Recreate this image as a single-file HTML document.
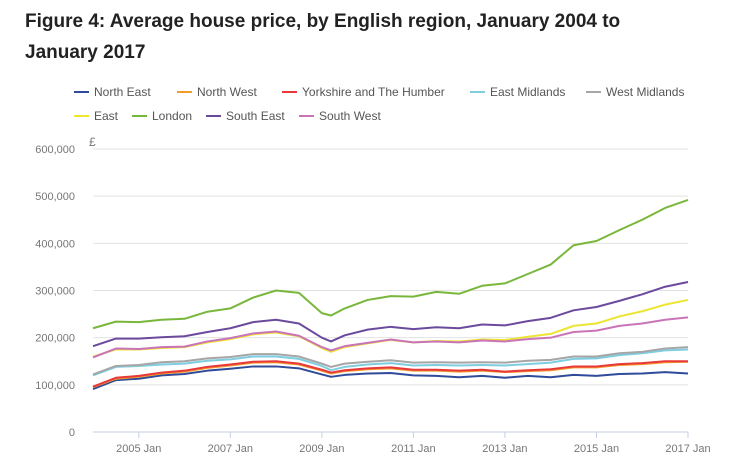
<!DOCTYPE html>
<html><head><meta charset="utf-8"><style>
body{margin:0;background:#fff;font-family:"Liberation Sans",sans-serif;}
#wrap{position:relative;width:729px;height:473px;overflow:hidden;}
h1{position:absolute;left:25px;top:6px;margin:0;font-size:19px;line-height:31px;font-weight:bold;color:#222;width:640px;}
</style></head><body>
<div id="wrap">
<h1>Figure 4: Average house price, by English region, January 2004 to January 2017</h1>
<svg id="c" width="729" height="473" style="position:absolute;left:0;top:0"></svg>
</div>
<script>
const years=[2004,2004.5,2005,2005.5,2006,2006.5,2007,2007.5,2008,2008.5,2009,2009.2,2009.5,2010,2010.5,2011,2011.5,2012,2012.5,2013,2013.5,2014,2014.5,2015,2015.5,2016,2016.5,2017];
const seriesNames=["North East","North West","Yorkshire and The Humber","East Midlands","West Midlands","East","London","South East","South West"];
const northEast=[91,110,113,120,123,130,134,139,139,135,122,117,121,124,125,120,119,116,119,115,119,116,121,119,123,124,127,124];
const northWest=[95,113,117,124,128,136,141,147,148,143,130,124,129,133,135,130,130,128,130,127,129,131,137,137,142,144,148,149];
const yorkshire=[96,115,119,126,130,138,143,149,150,145,132,126,131,135,137,132,132,130,132,128,131,133,139,139,144,146,150,150];
const eastMidlands=[120,138,140,143,145,151,154,160,160,155,140,131,138,143,146,141,142,141,142,141,144,147,155,156,163,167,173,175];
const westMidlands=[122,140,142,148,150,156,159,165,165,160,145,138,145,149,152,147,148,147,148,147,151,153,160,160,167,170,177,180];
const east=[160,175,175,178,180,190,197,207,211,203,178,170,180,188,195,190,193,192,196,195,202,208,225,230,245,256,270,280];
const london=[220,234,233,238,240,255,262,285,300,295,252,247,262,280,288,287,297,293,310,315,335,355,396,405,428,450,475,492];
const southEast=[182,198,198,201,203,212,220,233,238,230,200,192,205,217,223,218,222,220,228,226,235,242,258,265,278,292,308,318];
const southWest=[158,177,176,180,181,192,199,209,213,204,180,173,182,189,196,190,192,190,194,192,197,200,212,215,225,230,238,243];
const yTicks=[0,100000,200000,300000,400000,500000,600000];
const yTickLabels=["0","100,000","200,000","300,000","400,000","500,000","600,000"];
const xTicks=[2005,2007,2009,2011,2013,2015,2017];
const xTickLabels=["2005 Jan","2007 Jan","2009 Jan","2011 Jan","2013 Jan","2015 Jan","2017 Jan"];

const allSeries=[northEast,northWest,yorkshire,eastMidlands,westMidlands,east,london,southEast,southWest];
const colors=["#2f4b9a","#f39c2b","#e8383a","#7fcde0","#a6a6a6","#ece532","#79b73c","#6b4a9e","#c974b7"];
const legendPos=[[74,92],[177,92],[282,92],[470,92],[586,92],[74,116],[132,116],[206,116],[299,116]];
const X0=93,X1=688,Y0=432,Y1=149;
const xs=v=>X0+(v-2004)/(2017-2004)*(X1-X0);
const ys=v=>Y0-v/600000*(Y0-Y1);
const svg=document.getElementById('c');const NS='http://www.w3.org/2000/svg';
function mk(t,a){const e=document.createElementNS(NS,t);for(const k in a)e.setAttribute(k,a[k]);svg.appendChild(e);return e;}
yTicks.forEach((v,i)=>{
 if(v>0){const g=mk('line',{x1:X0,x2:X1,y1:ys(v),y2:ys(v),stroke:'#e2e2e2','stroke-width':1});
 
 }
 const t=mk('text',{x:75,y:ys(v)+4,'text-anchor':'end','font-size':11,fill:'#777','font-family':'Liberation Sans, sans-serif'});
 t.textContent=yTickLabels[i];
 
 
});
const pound=mk('text',{x:89,y:146,'font-size':12,fill:'#777'});pound.textContent='£';


const ax=mk('line',{x1:X0,x2:X1,y1:Y0,y2:Y0,stroke:'#c7cfe6','stroke-width':1});


xTicks.forEach((v,i)=>{
 const l=mk('line',{x1:xs(v),x2:xs(v),y1:Y0,y2:Y0+6,stroke:'#c7cfe6'});
 
 
 const t=mk('text',{x:xs(v),y:452,'text-anchor':'middle','font-size':11,fill:'#777'});
 t.textContent=xTickLabels[i];
 
 
});
allSeries.forEach((s,i)=>{
 const p=mk('polyline',{points:s.map((v,j)=>xs(years[j])+','+ys(v*1000)).join(' '),fill:'none',stroke:colors[i],'stroke-width':2,'stroke-linejoin':'round'});
 
 
 const [lx,ly]=legendPos[i];
 const m=mk('line',{x1:lx,x2:lx+15,y1:ly,y2:ly,stroke:colors[i],'stroke-width':2});
 
 
 const t=mk('text',{x:lx+20,y:ly+4,'font-size':12,fill:'#555'});
 t.textContent=seriesNames[i];
 
 
});
</script>
</body></html>
